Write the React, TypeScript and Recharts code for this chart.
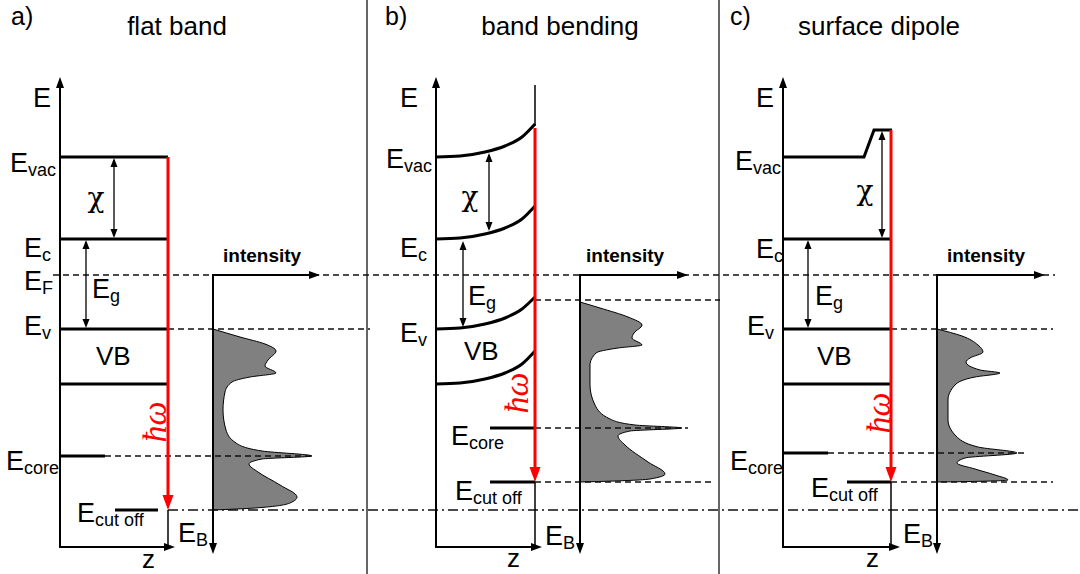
import { ComposedChart, Line, Area, XAxis, YAxis, ReferenceDot } from "recharts";

type Pt = { x: number; y: number };
type Tip = { x: number; y: number; dir: "up" | "down" | "left" | "right" };
type Lbl = { x: number; y: number; main: string; sub?: string };
type Txt = { x: number; y: number; text: string };

// diagram units: x 0..1080 across the three panels, y 0..574 top-down

const panelTags: Txt[] = [
  { x: 11, y: 25, text: "a)" },
  { x: 385, y: 25, text: "b)" },
  { x: 730, y: 25, text: "c)" },
];
const panelTitles: Txt[] = [
  { x: 177, y: 35, text: "flat band" },
  { x: 560, y: 35, text: "band bending" },
  { x: 879, y: 35, text: "surface dipole" },
];

const separators: Pt[][] = [
  [{ x: 367, y: 0 }, { x: 367, y: 574 }],
  [{ x: 719, y: 0 }, { x: 719, y: 574 }],
];

// E / z axes and intensity / E_B axes
const axes: Pt[][] = [
  [{ x: 60, y: 82 }, { x: 60, y: 547 }, { x: 170, y: 547 }],
  [{ x: 316, y: 275 }, { x: 213, y: 275 }, { x: 213, y: 548 }],
  [{ x: 436, y: 82 }, { x: 436, y: 547 }, { x: 537, y: 547 }],
  [{ x: 684, y: 275 }, { x: 580, y: 275 }, { x: 580, y: 548 }],
  [{ x: 783, y: 82 }, { x: 783, y: 547 }, { x: 895, y: 547 }],
  [{ x: 1041, y: 275 }, { x: 937, y: 275 }, { x: 937, y: 548 }],
];
const axisTips: Tip[] = [
  { x: 60, y: 77, dir: "up" }, { x: 175, y: 547, dir: "right" },
  { x: 320, y: 275, dir: "right" }, { x: 213, y: 554, dir: "down" },
  { x: 436, y: 77, dir: "up" }, { x: 542, y: 547, dir: "right" },
  { x: 688, y: 275, dir: "right" }, { x: 580, y: 554, dir: "down" },
  { x: 783, y: 77, dir: "up" }, { x: 900, y: 547, dir: "right" },
  { x: 1045, y: 275, dir: "right" }, { x: 937, y: 554, dir: "down" },
];

// surface position (thin)
const surfaceLines: Pt[][] = [
  [{ x: 168, y: 510 }, { x: 168, y: 547 }],
  [{ x: 535, y: 85 }, { x: 535, y: 126 }],
  [{ x: 535, y: 482 }, { x: 535, y: 547 }],
  [{ x: 891, y: 482 }, { x: 891, y: 547 }],
];

// straight energy levels
const bandLevels: Pt[][] = [
  [{ x: 60, y: 157 }, { x: 168, y: 157 }],
  [{ x: 60, y: 239 }, { x: 168, y: 239 }],
  [{ x: 60, y: 329 }, { x: 168, y: 329 }],
  [{ x: 60, y: 384 }, { x: 168, y: 384 }],
  [{ x: 60, y: 456 }, { x: 105, y: 456 }],
  [{ x: 115, y: 510 }, { x: 158, y: 510 }],
  [{ x: 490, y: 428 }, { x: 535, y: 428 }],
  [{ x: 490, y: 482 }, { x: 535, y: 482 }],
  [{ x: 783, y: 157 }, { x: 864, y: 157 }, { x: 874, y: 130 }, { x: 892, y: 130 }],
  [{ x: 783, y: 239 }, { x: 891, y: 239 }],
  [{ x: 783, y: 329 }, { x: 891, y: 329 }],
  [{ x: 783, y: 384 }, { x: 891, y: 384 }],
  [{ x: 783, y: 453 }, { x: 828, y: 453 }],
  [{ x: 847, y: 482 }, { x: 891, y: 482 }],
];

// bent bands, panel b
const bentBands: Pt[][] = [
  [{ x: 436, y: 157 }, { x: 460, y: 156 }, { x: 485, y: 152 }, { x: 505, y: 146 }, { x: 522, y: 137 }, { x: 535, y: 124 }],
  [{ x: 436, y: 239 }, { x: 460, y: 238 }, { x: 485, y: 234 }, { x: 505, y: 228 }, { x: 522, y: 219 }, { x: 535, y: 206 }],
  [{ x: 436, y: 329 }, { x: 460, y: 328 }, { x: 485, y: 324 }, { x: 505, y: 318 }, { x: 522, y: 309 }, { x: 535, y: 297 }],
  [{ x: 436, y: 384 }, { x: 460, y: 383 }, { x: 485, y: 379 }, { x: 505, y: 373 }, { x: 522, y: 364 }, { x: 535, y: 351 }],
];

// photon energy hω
const photonBeams: Pt[][] = [
  [{ x: 168, y: 157 }, { x: 168, y: 498 }],
  [{ x: 535, y: 128 }, { x: 535, y: 470 }],
  [{ x: 891, y: 130 }, { x: 891, y: 470 }],
];
const photonTips: Tip[] = [
  { x: 168, y: 510, dir: "down" },
  { x: 535, y: 482, dir: "down" },
  { x: 891, y: 482, dir: "down" },
];

// χ and E_g double arrows
const gapArrows: Pt[][] = [
  [{ x: 114, y: 160 }, { x: 114, y: 236 }],
  [{ x: 86, y: 242 }, { x: 86, y: 325 }],
  [{ x: 489, y: 155 }, { x: 489, y: 229 }],
  [{ x: 463, y: 243 }, { x: 463, y: 325 }],
  [{ x: 882, y: 133 }, { x: 882, y: 236 }],
  [{ x: 808, y: 242 }, { x: 808, y: 325 }],
];
const gapTips: Tip[] = [
  { x: 114, y: 158, dir: "up" }, { x: 114, y: 238, dir: "down" },
  { x: 86, y: 240, dir: "up" }, { x: 86, y: 328, dir: "down" },
  { x: 489, y: 153, dir: "up" }, { x: 489, y: 231, dir: "down" },
  { x: 463, y: 241, dir: "up" }, { x: 463, y: 327, dir: "down" },
  { x: 882, y: 131, dir: "up" }, { x: 882, y: 238, dir: "down" },
  { x: 808, y: 240, dir: "up" }, { x: 808, y: 328, dir: "down" },
];

const dashedGuides: Pt[][] = [
  [{ x: 53, y: 275 }, { x: 1055, y: 275 }],
  [{ x: 168, y: 329 }, { x: 370, y: 329 }],
  [{ x: 105, y: 456 }, { x: 312, y: 456 }],
  [{ x: 535, y: 300 }, { x: 720, y: 300 }],
  [{ x: 535, y: 428 }, { x: 688, y: 428 }],
  [{ x: 535, y: 482 }, { x: 715, y: 482 }],
  [{ x: 891, y: 329 }, { x: 1053, y: 329 }],
  [{ x: 828, y: 453 }, { x: 1027, y: 453 }],
  [{ x: 891, y: 482 }, { x: 1053, y: 482 }],
];
const dashDotGuides: Pt[][] = [[{ x: 168, y: 510 }, { x: 1080, y: 510 }]];

// photoemission spectra (intensity vs binding energy)
const spectrumA: Pt[] = [
  { x: 213, y: 329 }, { x: 240, y: 337 }, { x: 265, y: 344 }, { x: 276, y: 351 }, { x: 268, y: 360 },
  { x: 265, y: 366 }, { x: 276, y: 373 }, { x: 250, y: 377 }, { x: 232, y: 382 }, { x: 225, y: 392 },
  { x: 223, y: 410 }, { x: 226, y: 430 }, { x: 236, y: 443 }, { x: 262, y: 451 }, { x: 312, y: 456 },
  { x: 262, y: 459 }, { x: 249, y: 464 }, { x: 258, y: 472 }, { x: 280, y: 485 }, { x: 297, y: 497 },
  { x: 290, y: 503 }, { x: 255, y: 508 }, { x: 213, y: 510 },
];
const spectrumB: Pt[] = [
  { x: 580, y: 302 }, { x: 600, y: 308 }, { x: 628, y: 317 }, { x: 642, y: 325 }, { x: 634, y: 333 },
  { x: 632, y: 338 }, { x: 642, y: 345 }, { x: 618, y: 348 }, { x: 596, y: 353 }, { x: 590, y: 365 },
  { x: 590, y: 385 }, { x: 595, y: 405 }, { x: 610, y: 419 }, { x: 635, y: 425 }, { x: 682, y: 428 },
  { x: 630, y: 431 }, { x: 618, y: 436 }, { x: 625, y: 445 }, { x: 648, y: 462 }, { x: 665, y: 474 },
  { x: 650, y: 479 }, { x: 615, y: 481 }, { x: 580, y: 482 },
];
const spectrumC: Pt[] = [
  { x: 937, y: 329 }, { x: 962, y: 336 }, { x: 978, y: 345 }, { x: 983, y: 352 }, { x: 970, y: 358 },
  { x: 966, y: 362 }, { x: 980, y: 370 }, { x: 1000, y: 373 }, { x: 975, y: 377 }, { x: 955, y: 385 },
  { x: 948, y: 400 }, { x: 948, y: 420 }, { x: 956, y: 436 }, { x: 978, y: 447 }, { x: 1017, y: 453 },
  { x: 965, y: 458 }, { x: 957, y: 463 }, { x: 975, y: 469 }, { x: 995, y: 475 }, { x: 1008, y: 480 },
  { x: 970, y: 481.5 }, { x: 937, y: 482 },
];
const spectra = [spectrumA, spectrumB, spectrumC];
const spectrumBase = [213, 580, 937];

const levelLabels: Lbl[] = [
  { x: 33, y: 107, main: "E" },
  { x: 10, y: 172, main: "E", sub: "vac" },
  { x: 24, y: 257, main: "E", sub: "c" },
  { x: 24, y: 290, main: "E", sub: "F" },
  { x: 92, y: 298, main: "E", sub: "g" },
  { x: 24, y: 335, main: "E", sub: "v" },
  { x: 6, y: 470, main: "E", sub: "core" },
  { x: 77, y: 522, main: "E", sub: "cut off" },
  { x: 178, y: 542, main: "E", sub: "B" },
  { x: 400, y: 107, main: "E" },
  { x: 386, y: 168, main: "E", sub: "vac" },
  { x: 400, y: 257, main: "E", sub: "c" },
  { x: 468, y: 305, main: "E", sub: "g" },
  { x: 400, y: 342, main: "E", sub: "v" },
  { x: 451, y: 445, main: "E", sub: "core" },
  { x: 455, y: 500, main: "E", sub: "cut off" },
  { x: 545, y: 545, main: "E", sub: "B" },
  { x: 756, y: 107, main: "E" },
  { x: 735, y: 170, main: "E", sub: "vac" },
  { x: 756, y: 258, main: "E", sub: "c" },
  { x: 815, y: 305, main: "E", sub: "g" },
  { x: 747, y: 335, main: "E", sub: "v" },
  { x: 730, y: 470, main: "E", sub: "core" },
  { x: 811, y: 497, main: "E", sub: "cut off" },
  { x: 903, y: 543, main: "E", sub: "B" },
];
const plainLabels: Txt[] = [
  { x: 96, y: 365, text: "VB" },
  { x: 464, y: 360, text: "VB" },
  { x: 817, y: 365, text: "VB" },
  { x: 142, y: 568, text: "z" },
  { x: 507, y: 567, text: "z" },
  { x: 866, y: 567, text: "z" },
];
const chiLabels: Txt[] = [
  { x: 96, y: 197, text: "χ" },
  { x: 470, y: 196, text: "χ" },
  { x: 865, y: 190, text: "χ" },
];
const intensityLabels: Txt[] = [
  { x: 223, y: 262, text: "intensity" },
  { x: 586, y: 262, text: "intensity" },
  { x: 947, y: 262, text: "intensity" },
];
const photonLabels: Txt[] = [
  { x: 154, y: 422, text: "ħω" },
  { x: 516, y: 393, text: "ħω" },
  { x: 878, y: 413, text: "ħω" },
];

const SANS = "'Liberation Sans', Arial, Helvetica, sans-serif";
const SERIF = "'Liberation Serif', 'Times New Roman', serif";
const CHI_FONT = "'DejaVu Serif', serif";
const RED = "#ff0000";
const ANGLE = { up: -90, down: 90, right: 0, left: 180 };

function path(pts: Pt[], key: string, stroke: string, width: number, dash?: string, type: any = "linear") {
  return (
    <Line
      key={key}
      data={pts}
      dataKey="x"
      type={type}
      stroke={stroke}
      strokeWidth={width}
      strokeDasharray={dash}
      dot={false}
      activeDot={false}
      legendType="none"
      isAnimationActive={false}
    />
  );
}

function tip(t: Tip, key: string, color: string, len: number, wid: number) {
  return (
    <ReferenceDot
      key={key}
      x={t.x}
      y={t.y}
      r={0}
      ifOverflow="visible"
      shape={(p: any) => (
        <polygon
          points={`0,0 ${-len},${-wid / 2} ${-len},${wid / 2}`}
          transform={`translate(${p.cx},${p.cy}) rotate(${ANGLE[t.dir]})`}
          fill={color}
        />
      )}
    />
  );
}

function text(t: Txt, key: string, props: any) {
  return (
    <ReferenceDot
      key={key}
      x={t.x}
      y={t.y}
      r={0}
      ifOverflow="visible"
      shape={(p: any) => (
        <text x={p.cx} y={p.cy} fill="#000" fontFamily={SANS} {...props}>
          {t.text}
        </text>
      )}
    />
  );
}

export default function App() {
  return (
    <div style={{ position: "absolute", left: 0, top: 0, width: 1080, height: 574, background: "#fff" }}>
      <ComposedChart width={1080} height={574} layout="vertical" margin={{ top: 0, right: 0, bottom: 0, left: 0 }}>
        <XAxis type="number" domain={[0, 1080]} hide />
        <YAxis type="number" dataKey="y" domain={[0, 574]} hide />

        {separators.map((s, i) => path(s, `sep${i}`, "#333", 1.5))}
        {dashedGuides.map((s, i) => path(s, `dash${i}`, "#111", 1.5, "6 4"))}
        {dashDotGuides.map((s, i) => path(s, `dd${i}`, "#111", 1.5, "10 4 2 4"))}

        {spectra.map((s, i) => (
          <Area
            key={`spec${i}`}
            data={s}
            dataKey="x"
            type="monotone"
            baseValue={spectrumBase[i]}
            fill="#808080"
            fillOpacity={1}
            stroke="#000"
            strokeWidth={1}
            dot={false}
            activeDot={false}
            legendType="none"
            isAnimationActive={false}
          />
        ))}

        {axes.map((s, i) => path(s, `ax${i}`, "#000", 2))}
        {surfaceLines.map((s, i) => path(s, `surf${i}`, "#000", 1.5))}
        {gapArrows.map((s, i) => path(s, `gap${i}`, "#000", 1.3))}
        {bandLevels.map((s, i) => path(s, `lvl${i}`, "#000", 3))}
        {bentBands.map((s, i) => path(s, `bent${i}`, "#000", 3, undefined, "monotoneX"))}
        {photonBeams.map((s, i) => path(s, `ph${i}`, RED, 3))}

        {axisTips.map((t, i) => tip(t, `at${i}`, "#000", 11, 8))}
        {gapTips.map((t, i) => tip(t, `gt${i}`, "#000", 9, 7))}
        {photonTips.map((t, i) => tip(t, `pt${i}`, RED, 15, 11))}

        {panelTags.map((t, i) => text(t, `tag${i}`, { fontSize: 25 }))}
        {panelTitles.map((t, i) => text(t, `title${i}`, { fontSize: 26, textAnchor: "middle" }))}
        {plainLabels.map((t, i) => text(t, `pl${i}`, { fontSize: 26 }))}
        {chiLabels.map((t, i) =>
          text(t, `chi${i}`, { fontSize: 28, fontFamily: CHI_FONT, textAnchor: "middle", dominantBaseline: "central" })
        )}
        {intensityLabels.map((t, i) => text(t, `int${i}`, { fontSize: 19, fontWeight: "bold" }))}

        {photonLabels.map((t, i) => (
          <ReferenceDot
            key={`hw${i}`}
            x={t.x}
            y={t.y}
            r={0}
            ifOverflow="visible"
            shape={(p: any) => (
              <text
                x={p.cx}
                y={p.cy}
                fill={RED}
                fontFamily={SERIF}
                fontStyle="italic"
                fontSize={34}
                textAnchor="middle"
                dominantBaseline="central"
                transform={`rotate(-90 ${p.cx} ${p.cy})`}
              >
                {t.text}
              </text>
            )}
          />
        ))}

        {levelLabels.map((l, i) => (
          <ReferenceDot
            key={`lbl${i}`}
            x={l.x}
            y={l.y}
            r={0}
            ifOverflow="visible"
            shape={(p: any) => (
              <text x={p.cx} y={p.cy} fill="#000" fontFamily={SANS} fontSize={27}>
                {l.main}
                {l.sub ? (
                  <tspan dy={4} fontSize={18}>
                    {l.sub}
                  </tspan>
                ) : null}
              </text>
            )}
          />
        ))}
      </ComposedChart>
    </div>
  );
}
